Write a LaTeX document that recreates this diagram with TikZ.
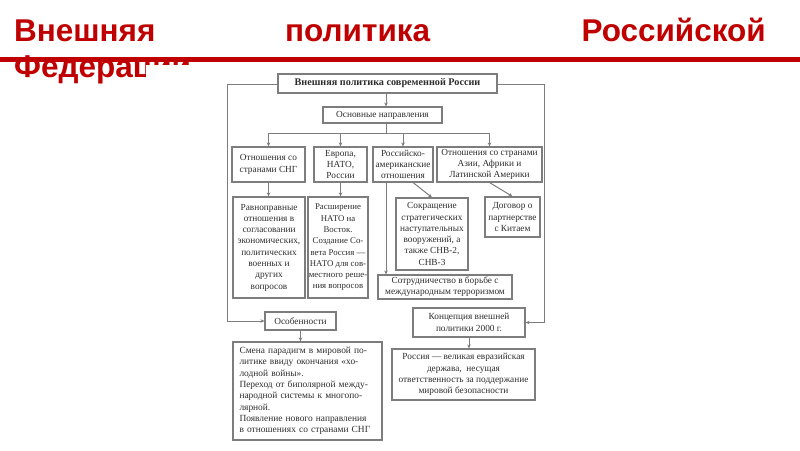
\documentclass[tikz,border=0pt]{standalone}
\usepackage{fontspec}
\setmainfont{Liberation Serif}
\newfontfamily\titlefont{Liberation Sans}
\usetikzlibrary{arrows.meta}
\definecolor{titlered}{RGB}{192,0,0}
\definecolor{linegrey}{RGB}{125,125,125}
\definecolor{txt}{RGB}{45,45,45}
\begin{document}
\begin{tikzpicture}[x=1pt,y=-1pt,
  ttl/.style={font=\titlefont\bfseries\fontsize{31.5}{34}\selectfont, text=titlered, inner sep=0},
  box/.style={draw=linegrey, line width=1.1pt, fill=white, inner sep=0, align=center, text=txt,
    font=\fontsize{9.3}{11.3}\selectfont},
  bline/.style={draw=linegrey, line width=1pt},
  arr/.style={bline, -{Stealth[length=4pt,width=3.5pt]}},
]
\useasboundingbox (0,0) rectangle (800,450);
\fill[white] (0,0) rectangle (800,450);
% title
\node[ttl, anchor=base west] (t1) at (14,41) {Внешняя};
\node[ttl, anchor=base west] (t2) at (285,41) {политика};
\node[ttl, anchor=base east] (t3) at (766,41) {Российской};
\node[ttl, anchor=base west] (t4) at (14,77) {Федерации};
\fill[white] (146,65) rectangle (800,450);
\fill[titlered] (0,57) rectangle (800,62);
% boxes
\node[box, minimum width=219, minimum height=19, font=\bfseries\fontsize{10.2}{12}\selectfont] (top) at (387.5,83.5) {Внешняя политика современной России};
\node[box, minimum width=119, minimum height=16] (osn) at (382.5,115) {Основные направления};
\node[box, minimum width=73, minimum height=35] (r1a) at (268.5,164.5) {Отношения со\\странами СНГ};
\node[box, minimum width=53, minimum height=35] (r1b) at (340.5,164.5) {Европа,\\НАТО,\\России};
\node[box, minimum width=60, minimum height=35] (r1c) at (403,164.5) {Российско-\\американские\\отношения};
\node[box, minimum width=105, minimum height=35] (r1d) at (489.5,164.5) {Отношения со странами\\Азии, Африки и\\Латинской Америки};
\node[box, minimum width=72, minimum height=101] (r2a) at (269,247.5) {Равноправные\\отношения в\\согласовании\\экономических,\\политических\\военных и\\других\\вопросов};
\node[box, minimum width=60, minimum height=101, font=\fontsize{8.8}{11.3}\selectfont] (r2b) at (338,247.5) {Расширение\\НАТО на\\Восток.\\Создание Со-\\вета Россия —\\НАТО для сов-\\местного реше-\\ния вопросов};
\node[box, minimum width=72, minimum height=72] (r2c) at (432,234) {Сокращение\\стратегических\\наступательных\\вооружений, а\\также СНВ-2,\\СНВ-3};
\node[box, minimum width=55, minimum height=40] (r2d) at (512.5,217) {Договор о\\партнерстве\\с Китаем};
\node[box, minimum width=134, minimum height=24] (coop) at (445,287) {Сотрудничество в борьбе с\\международным терроризмом};
\node[box, minimum width=71, minimum height=18] (osob) at (300.5,321) {Особенности};
\node[box, minimum width=149, minimum height=98, align=left, text width=136, inner xsep=6.5, font=\fontsize{9.4}{11.3}\selectfont] (smena) at (307.5,391) {Смена парадигм в мировой по-\\литике ввиду окончания «хо-\\лодной войны».\\Переход от биполярной между-\\народной системы к многопо-\\лярной.\\Появление нового направления\\в отношениях со странами СНГ};
\node[box, minimum width=112, minimum height=29] (konc) at (469,322.5) {Концепция внешней\\политики 2000 г.};
\node[box, minimum width=143, minimum height=51] (ross) at (463.5,374.5) {Россия — великая евразийская\\держава,\ \ несущая\\ответственность за поддержание\\мировой безопасности};
% connectors
\coordinate (bus) at (386,133);
\coordinate (lft) at (227,84);
\coordinate (rgt) at (544,84);
\draw[arr] (top.south -| bus) -- (bus |- osn.north);
\draw[bline] (osn.south -| bus) -- (bus);
\draw[bline] (r1a.north |- bus) -- (r1d.north |- bus);
\draw[arr] (r1a.north |- bus) -- (r1a.north);
\draw[arr] (r1b.north |- bus) -- (r1b.north);
\draw[arr] (r1c.north |- bus) -- (r1c.north);
\draw[arr] (r1d.north |- bus) -- (r1d.north);
\draw[arr] (r1a.south) -- (r1a.south |- r2a.north);
\draw[arr] (r1b.south) -- (r1b.south |- r2b.north);
\draw[arr] (r1c.south -| bus) -- (bus |- coop.north);
\draw[arr] ([xshift=10pt]r1c.south) -- (r2c.north);
\draw[arr] (r1d.south) -- (r2d.north);
\draw[arr] (top.west |- lft) -- (lft) |- (osob.west);
\draw[arr] (top.east |- rgt) -- (rgt) |- (konc.east);
\draw[arr] (osob.south) -- (osob.south |- smena.north);
\draw[arr] (konc.south) -- (konc.south |- ross.north);
\end{tikzpicture}
\end{document}
